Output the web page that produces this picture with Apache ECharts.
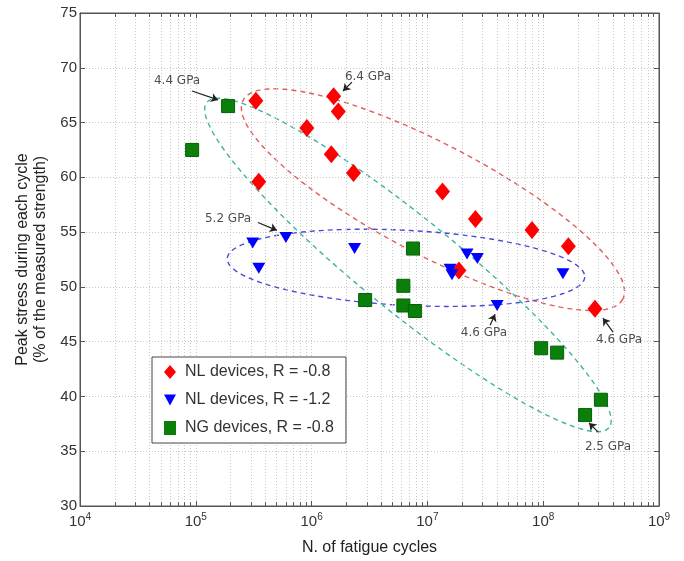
<!DOCTYPE html>
<html>
<head>
<meta charset="utf-8">
<script src="https://cdn.jsdelivr.net/npm/echarts@6/dist/echarts.min.js"></script>
<style>
html, body { margin: 0; padding: 0; background: #fff; }
#fatigueChart { width: 684px; height: 561px; }
</style>
</head>
<body>
<div id="fatigueChart"></div>
<script>
// NL devices, R = -0.8 (cycles, peak stress %)
const nlRed = [
	[3.3e5, 67.0], [1.55e6, 67.4], [1.7e6, 66.0], [9.1e5, 64.5], [1.48e6, 62.1],
	[2.3e6, 60.4], [3.5e5, 59.6], [1.35e7, 58.7], [2.6e7, 56.2], [8.0e7, 55.2],
	[1.65e8, 53.7], [1.87e7, 51.5], [2.8e8, 48.0],
]
// NL devices, R = -1.2
const nlBlue = [
	[3.1e5, 54.0], [6.0e5, 54.5], [3.5e5, 51.7], [2.35e6, 53.5], [2.2e7, 53.0],
	[2.7e7, 52.6], [1.57e7, 51.6], [1.63e7, 51.1], [1.48e8, 51.2], [4.0e7, 48.3],
]
// NG devices, R = -0.8
const ngGreen = [
	[1.9e5, 66.5], [9.3e4, 62.5], [7.5e6, 53.5], [2.9e6, 48.8], [6.2e6, 50.1],
	[6.2e6, 48.3], [7.8e6, 47.8], [9.6e7, 44.4], [1.32e8, 44.0], [3.15e8, 39.7],
	[2.3e8, 38.3],
]
// dashed ellipses: [centre log10(N), centre stress, axis1 dlog, axis1 dstress, axis2 dlog, axis2 dstress]
const ellRed = [7.048, 57.96, 1.639, -9.09, -0.227, -4.45]
const ellBlue = [6.815, 51.74, 1.544, -0.85, -0.017, -3.42]
const ellGreen = [6.832, 52.0, 1.736, -14.86, -0.26, -3.31]

// annotations: label, text position, arrow start, arrow end
const notes = [
	["4.4 GPa", [6.89e4, 68.78], [9.27e4, 67.88], [1.556e5, 67.07]],
	["6.4 GPa", [3.07e6, 69.14], [2.23e6, 68.69], [1.87e6, 67.88]],
	["5.2 GPa", [1.9e5, 56.24], [3.44e5, 55.88], [5.02e5, 55.16]],
	["4.6 GPa", [3.08e7, 45.78], [3.48e7, 46.5], [3.84e7, 47.5]],
	["4.6 GPa", [4.52e8, 45.15], [4.01e8, 45.88], [3.28e8, 47.14]],
	["2.5 GPa", [3.63e8, 35.41], [2.97e8, 36.77], [2.49e8, 37.58]],
]

const decades = [4, 5, 6, 7, 8]

function ellipse(p) {
	let pts = []
	for (let i = 0; i <= 160; i++) {
		let t = (i / 160) * Math.PI * 2
		let lx = p[0] + p[2] * Math.cos(t) + p[4] * Math.sin(t)
		let y = p[1] + p[3] * Math.cos(t) + p[5] * Math.sin(t)
		pts.push([Math.pow(10, lx), y])
	}
	return pts
}

let minorVals = []
decades.forEach((d) => {
	for (let j = 2; j <= 9; j++) minorVals.push(j * Math.pow(10, d))
})
let minorTickSegs = []
minorVals.forEach((v) => {
	minorTickSegs.push([{ coord: [v, 30] }, { coord: [v, 30.35] }])
	minorTickSegs.push([{ coord: [v, 75] }, { coord: [v, 74.65] }])
})

let myCharts = echarts.init(document.getElementById("fatigueChart"))

const font = "Liberation Sans, Arial, sans-serif"
const triPath = "path://M0,0 L10,0 L5,9 Z"

function ellSeries(name, p, color) {
	return {
		name: name,
		type: "line",
		data: ellipse(p),
		showSymbol: false,
		symbol: "none",
		silent: true,
		lineStyle: { color: color, width: 1.4, type: [5, 4] },
		z: 2,
	}
}

let option = {
	animation: false,
	textStyle: { fontFamily: font },
	grid: { left: 80, right: 25, top: 13, bottom: 49, show: true, borderColor: "#555", borderWidth: 1 },
	legend: {
		orient: "vertical",
		left: 152,
		top: 357,
		z: 10,
		data: [
			{ name: "NL devices, R = -0.8", icon: "diamond", itemStyle: { color: "#ff0000" } },
			{ name: "NL devices, R = -1.2", icon: triPath, itemStyle: { color: "#0000ff" } },
			{ name: "NG devices, R = -0.8", icon: "rect", itemStyle: { color: "#0a800a" } },
		],
		itemStyle: { borderWidth: 0, borderType: "solid", opacity: 1 },
		backgroundColor: "#fff",
		borderColor: "#444",
		borderWidth: 1,
		borderRadius: 0,
		padding: [6, 12, 6, 12],
		itemWidth: 12,
		itemHeight: 14,
		itemGap: 10,
		textStyle: { fontSize: 16, color: "#333", lineHeight: 18, padding: [0, 0, 0, 4], fontFamily: font },
	},
	xAxis: [
		{
			type: "log",
			logBase: 10,
			min: 1e4,
			max: 1e9,
			name: "N. of fatigue cycles",
			nameLocation: "middle",
			nameGap: 34,
			nameTextStyle: { fontSize: 16, color: "#222" },
			axisLine: { lineStyle: { color: "#555" } },
			axisTick: { inside: true, length: 5, lineStyle: { color: "#555" } },
			axisLabel: {
				color: "#333",
				margin: 6,
				formatter: (v) => "{b|10}{s|" + Math.round(Math.log10(v)) + "}",
				rich: {
					b: { fontSize: 15, color: "#333" },
					s: { fontSize: 10, color: "#333", padding: [0, 0, 9, 0] },
				},
			},
			splitLine: { show: true, lineStyle: { color: "#c8c8c8", type: [1, 2] } },
		},
		{
			type: "log",
			logBase: 10,
			min: 1e4,
			max: 1e9,
			position: "top",
			axisLine: { lineStyle: { color: "#555" } },
			axisTick: { inside: true, length: 5, lineStyle: { color: "#555" } },
			axisLabel: { show: false },
			splitLine: { show: false },
		},
	],
	yAxis: [
		{
			type: "value",
			min: 30,
			max: 75,
			interval: 5,
			name: "Peak stress during each cycle\n(% of the measured strength)",
			nameLocation: "middle",
			nameGap: 27,
			nameTextStyle: { fontSize: 16, color: "#222", lineHeight: 18, align: "center" },
			axisLine: { show: true, lineStyle: { color: "#555" } },
			axisTick: { show: true, inside: true, length: 5, lineStyle: { color: "#555" } },
			axisLabel: { color: "#333", fontSize: 15, margin: 3 },
			splitLine: { show: true, lineStyle: { color: "#c8c8c8", type: [1, 2] } },
		},
		{
			type: "value",
			min: 30,
			max: 75,
			interval: 5,
			position: "right",
			axisLine: { show: true, lineStyle: { color: "#555" } },
			axisTick: { show: true, inside: true, length: 5, lineStyle: { color: "#555" } },
			axisLabel: { show: false },
			splitLine: { show: false },
		},
	],
	series: [
		{
			name: "grid",
			type: "scatter",
			data: [],
			silent: true,
			markLine: {
				silent: true,
				symbol: "none",
				label: { show: false },
				lineStyle: { color: "#c8c8c8", type: [1, 2], width: 1 },
				data: minorVals.map((v) => ({ xAxis: v })),
			},
		},
		{
			name: "minorTicks",
			type: "scatter",
			data: [],
			silent: true,
			markLine: {
				silent: true,
				symbol: "none",
				label: { show: false },
				lineStyle: { color: "#555", type: "solid", width: 1 },
				data: minorTickSegs,
			},
		},
		ellSeries("ellRed", ellRed, "#e25c5c"),
		ellSeries("ellBlue", ellBlue, "#4a4ad8"),
		ellSeries("ellGreen", ellGreen, "#3fb59a"),
		{
			name: "NL devices, R = -0.8",
			type: "scatter",
			data: nlRed,
			symbol: "diamond",
			symbolSize: [15, 18],
			itemStyle: { color: "#ff0000", opacity: 1 },
			z: 5,
		},
		{
			name: "NL devices, R = -1.2",
			type: "scatter",
			data: nlBlue,
			symbol: "triangle",
			symbolRotate: 180,
			symbolSize: [13, 11],
			itemStyle: { color: "#0000ff", opacity: 1 },
			z: 5,
		},
		{
			name: "NG devices, R = -0.8",
			type: "scatter",
			data: ngGreen,
			symbol: "rect",
			symbolSize: 13,
			itemStyle: { color: "#0a800a", borderColor: "#066006", borderWidth: 1, opacity: 1 },
			z: 5,
		},
		{
			name: "notes",
			type: "scatter",
			data: notes.map((n) => ({ name: n[0], value: n[1] })),
			symbolSize: 0,
			silent: true,
			label: {
				show: true,
				position: "inside",
				formatter: (p) => p.name,
				fontSize: 12,
				color: "#222",
				fontFamily: "DejaVu Sans, sans-serif",
			},
			markLine: {
				silent: true,
				symbol: ["none", "arrow"],
				symbolSize: 7,
				label: { show: false },
				lineStyle: { color: "#222", type: "solid", width: 1.2 },
				data: notes.map((n) => [{ coord: n[2] }, { coord: n[3] }]),
			},
			z: 6,
		},
	],
}

myCharts.setOption(option)
</script>
</body>
</html>
